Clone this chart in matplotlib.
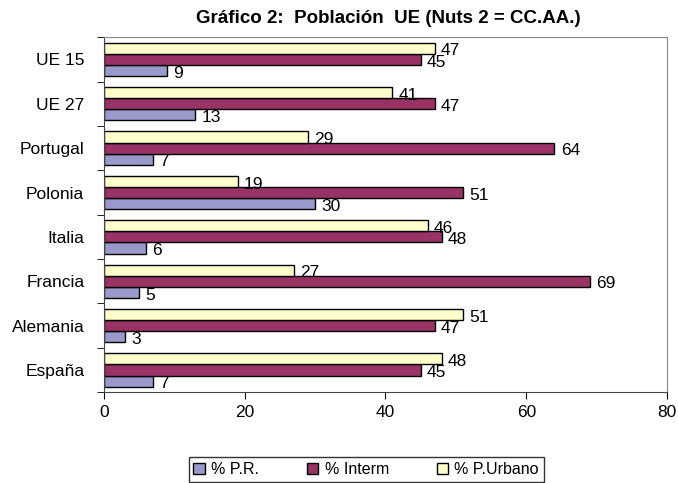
# -*- coding: utf-8 -*-
import matplotlib
matplotlib.use('Agg')
import matplotlib.pyplot as plt
import numpy as np

plt.rcParams['font.family'] = ['Liberation Sans', 'DejaVu Sans']

# data (bottom to top as drawn)
paises = ['España', 'Alemania', 'Francia', 'Italia', 'Polonia', 'Portugal', 'UE 27', 'UE 15']
pct_pr = [7, 3, 5, 6, 30, 7, 13, 9]
pct_interm = [45, 47, 69, 48, 51, 64, 47, 45]
pct_urbano = [48, 51, 27, 46, 19, 29, 41, 47]

fig = plt.figure(figsize=(6.78, 4.83), dpi=100)
ax = fig.add_axes([0.153, 0.188, 0.831, 0.735])

y = np.arange(len(paises))
h = 0.25
series = [
    (pct_pr, '% P.R.', '#9999CC', -h),
    (pct_interm, '% Interm', '#993366', 0),
    (pct_urbano, '% P.Urbano', '#FFFFCC', h),
]
for vals, lab, col, off in series:
    bars = ax.barh(y + off, vals, h, color=col, edgecolor='black', linewidth=1, label=lab)
    for b, v in zip(bars, vals):
        ax.text(v + 0.9, b.get_y() + b.get_height() / 2 - 0.06, str(v),
                va='center', ha='left', fontsize=12.5)

ax.set_xlim(0, 80)
ax.set_ylim(-0.5, len(paises) - 0.5)
ax.set_xticks([0, 20, 40, 60, 80])
ax.set_yticks(y)
ax.set_yticklabels(paises)
ax.set_yticks(np.arange(-0.5, len(paises), 1), minor=True)
ax.tick_params(axis='y', which='major', length=0, labelsize=12.5, pad=14)
ax.tick_params(axis='y', which='minor', length=5, direction='out')
ax.tick_params(axis='x', which='major', length=5, direction='out', labelsize=12.5, pad=4)

for s in ['top', 'right']:
    ax.spines[s].set_color('#888888')
for s in ['left', 'bottom']:
    ax.spines[s].set_color('#444444')

fig.text(0.573, 0.962, 'Gráfico 2:  Población  UE (Nuts 2 = CC.AA.)',
         ha='center', va='center', fontsize=13.5, fontweight='bold',
         family=['Liberation Sans Narrow', 'Liberation Sans', 'DejaVu Sans'])

handles, labels = ax.get_legend_handles_labels()
leg = fig.legend(handles, labels, loc='upper center',
                 ncol=3, fontsize=11.5, frameon=True, fancybox=False,
                 handlelength=0.7, handleheight=0.7, handletextpad=0.4,
                 columnspacing=3.0, borderpad=0.3, borderaxespad=0)
leg.get_frame().set_edgecolor('black')
leg.get_frame().set_linewidth(1)
leg.set_bbox_to_anchor((0.54, 1 - 457 / 483), transform=fig.transFigure)

fig.savefig('out.png', dpi=100)
